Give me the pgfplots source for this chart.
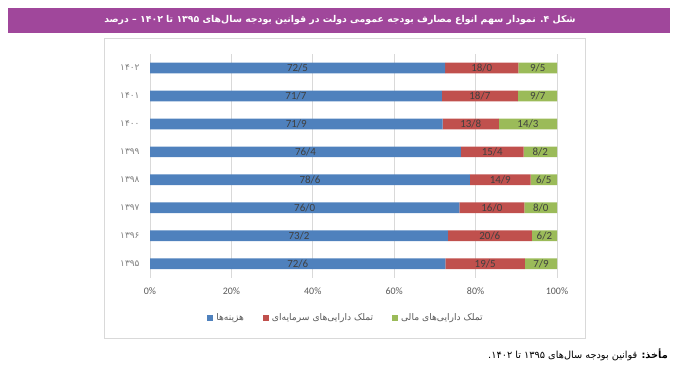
\documentclass[border=0pt]{standalone}
\usepackage{fontspec}
\usepackage{pgfplots}
\usepackage{pgfplotstable}
\pgfplotsset{compat=1.18}
\setmainfont{Carlito}
\newfontfamily\arabicfont[Script=Arabic]{DejaVu Sans}
\TeXXeTstate=1
\definecolor{cblue}{HTML}{4F81BD}
\definecolor{cred}{HTML}{C0504D}
\definecolor{cgreen}{HTML}{9BBB59}
\definecolor{tpurple}{RGB}{160,71,155}
\definecolor{gridc}{HTML}{D9D9D9}
\definecolor{txt}{HTML}{595959}
\definecolor{lbl}{HTML}{404040}
\definecolor{ylbl}{HTML}{7F7F7F}

\pgfplotstableread{
y a b c la lb lc
0 72.6 19.5 7.9 72/6 19/5 7/9
1 73.2 20.6 6.2 73/2 20/6 6/2
2 76.0 16.0 8.0 76/0 16/0 8/0
3 78.6 14.9 6.5 78/6 14/9 6/5
4 76.4 15.4 8.2 76/4 15/4 8/2
5 71.9 13.8 14.3 71/9 13/8 14/3
6 71.7 18.7 9.7 71/7 18/7 9/7
7 72.5 18.0 9.5 72/5 18/0 9/5
}\datatable

\pgfplotsset{
  common/.style={
    at={(150bp,93.3bp)}, anchor=south west, scale only axis,
    width=407bp, height=223.7bp,
    xmin=0, xmax=100, ymin=-0.5, ymax=7.5,
  },
}

\begin{document}
\begin{tikzpicture}
\useasboundingbox (0bp,0bp) rectangle (682bp,371bp);
\fill[tpurple] (8bp,338bp) rectangle (670bp,363bp);
\node[text=white, font=\arabicfont\bfseries\fontsize{9.4}{12}\selectfont, inner sep=0] at (340bp,350.5bp)
  {\beginR شکل ۴. نمودار سهم انواع مصارف بودجه عمومی دولت در قوانین بودجه سال‌های \beginL۱۳۹۵\endL{} تا \beginL۱۴۰۲\endL{} – درصد\endR};
\draw[gridc, line width=0.8bp] (104bp,33bp) rectangle (585bp,333bp);

\begin{axis}[common,
  xbar stacked, bar width=10.7bp,
  ytick={0,...,7},
  yticklabels={{۱۳۹۵},{۱۳۹۶},{۱۳۹۷},{۱۳۹۸},{۱۳۹۹},{۱۴۰۰},{۱۴۰۱},{۱۴۰۲}},
  yticklabel style={font=\arabicfont\fontsize{9}{10}\selectfont, text=ylbl, xshift=-7bp},
  xtick={0,20,...,100},
  xticklabel={\pgfmathprintnumber{\tick}\%},
  /pgf/number format/assume math mode=true,
  xticklabel style={font=\fontsize{10}{12}\selectfont, text=txt, yshift=-6bp},
  xmajorgrids, grid style={gridc, line width=0.8bp},
  axis line style={draw=none}, major tick length=0,
  legend columns=3,
  legend style={at={(0.4816,-0.18)}, anchor=center, draw=none, fill=none,
    font=\arabicfont\fontsize{9.2}{11}\selectfont, text=txt,
    /tikz/every odd column/.style={column sep=1bp},
    /tikz/every even column/.style={column sep=17bp}},
  legend image code/.code={\fill[#1] (0bp,-3bp) rectangle (6bp,3bp);},
]
\addplot[fill=cblue, draw=none] table[x=a, y=y] {\datatable};
\addplot[fill=cred, draw=none] table[x=b, y=y] {\datatable};
\addplot[fill=cgreen, draw=none] table[x=c, y=y] {\datatable};
\legend{{\beginR هزینه‌ها\endR},{\beginR تملک دارایی‌های سرمایه‌ای\endR},{\beginR تملک دارایی‌های مالی\endR}}
\end{axis}

\begin{axis}[common, hide axis, clip=false,
  every node near coord/.append style={font=\fontsize{11}{13}\selectfont, text=lbl, inner sep=0},
  nodes near coords align={center},
]
\addplot[draw=none, mark=none, nodes near coords, point meta=explicit symbolic]
  table[x expr=\thisrow{a}/2, y=y, meta=la] {\datatable};
\addplot[draw=none, mark=none, nodes near coords, point meta=explicit symbolic]
  table[x expr=\thisrow{a}+\thisrow{b}/2, y=y, meta=lb] {\datatable};
\addplot[draw=none, mark=none, nodes near coords, point meta=explicit symbolic]
  table[x expr=\thisrow{a}+\thisrow{b}+\thisrow{c}/2, y=y, meta=lc] {\datatable};
\end{axis}

\node[anchor=east, font=\arabicfont\fontsize{9.8}{11}\selectfont, inner sep=0] at (668bp,16bp)
  {\beginR{\bfseries مأخذ:} قوانین بودجه سال‌های \beginL۱۳۹۵\endL{} تا \beginL۱۴۰۲\endL.\endR};
\end{tikzpicture}
\end{document}
